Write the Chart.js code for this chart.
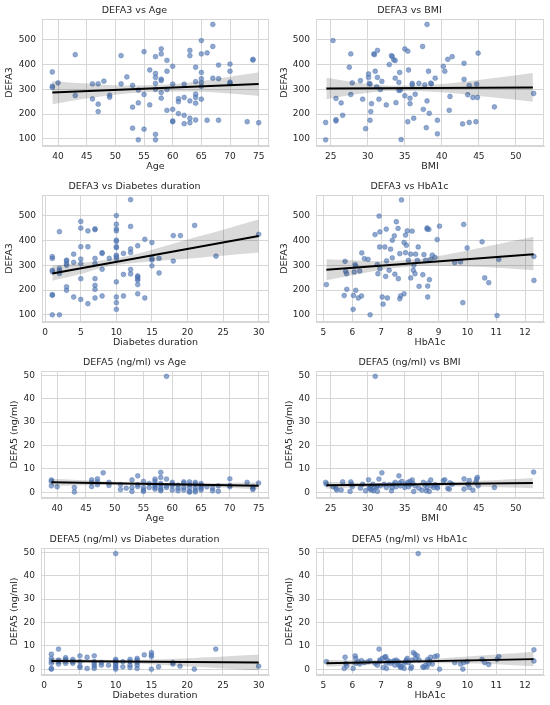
<!DOCTYPE html>
<html>
<head>
<meta charset="utf-8">
<script src="https://cdn.jsdelivr.net/npm/chart.js@4.4.1/dist/chart.umd.min.js"></script>
<style>
  html, body { margin: 0; padding: 0; background: #fff; }
  #wrap { position: relative; width: 550px; height: 705px; overflow: hidden; }
  .panel { position: absolute; width: 275px; height: 176px; }
</style>
</head>
<body>
<div id="wrap">
  <div class="panel" style="left:0;top:0"><canvas id="c1" width="275" height="176"></canvas></div>
  <div class="panel" style="left:275px;top:0"><canvas id="c2" width="275" height="176"></canvas></div>
  <div class="panel" style="left:0;top:176px"><canvas id="c3" width="275" height="176"></canvas></div>
  <div class="panel" style="left:275px;top:176px"><canvas id="c4" width="275" height="176"></canvas></div>
  <div class="panel" style="left:0;top:352px"><canvas id="c5" width="275" height="176"></canvas></div>
  <div class="panel" style="left:275px;top:352px"><canvas id="c6" width="275" height="176"></canvas></div>
  <div class="panel" style="left:0;top:529px"><canvas id="c7" width="275" height="176"></canvas></div>
  <div class="panel" style="left:275px;top:529px"><canvas id="c8" width="275" height="176"></canvas></div>
</div>
<script>
// tick labels
var AGE_TICKS = [40, 45, 50, 55, 60, 65, 70, 75];
var BMI_TICKS = [25, 30, 35, 40, 45, 50];
var DUR_TICKS = [0, 5, 10, 15, 20, 25, 30];
var HBA_TICKS = [5, 6, 7, 8, 9, 10, 11, 12];
var DEFA3_TICKS = [100, 200, 300, 400, 500];
var DEFA5_TICKS = [0, 10, 20, 30, 40, 50];

// points [x, y], fit line ends [x, y], confidence band [x, lo, hi]
var age_defa3 = [[39,370],[39,313],[39,307],[40,326],[43,440],[43,275],[46,322],[46,261],[47,322],[47,240],[47,210],[48,333],[49,276],[49,268],[51,436],[51,322],[52,350],[53,316],[53,228],[53,143],[54,297],[54,245],[54,96],[55,452],[55,279],[55,139],[56,378],[56,237],[57,432],[57,364],[57,348],[57,324],[57,300],[57,118],[57,96],[58,463],[58,443],[58,341],[58,335],[58,287],[58,264],[59,417],[59,373],[59,299],[59,215],[60,393],[60,321],[60,219],[60,172],[60,169],[61,262],[61,250],[61,202],[62,321],[62,267],[62,195],[62,161],[63,457],[63,436],[63,253],[63,183],[63,165],[64,389],[64,331],[64,280],[64,267],[64,244],[64,176],[65,497],[65,443],[65,368],[65,343],[65,328],[65,312],[65,260],[66,447],[66,175],[67,562],[67,473],[67,345],[68,398],[68,343],[68,175],[70,402],[70,373],[70,329],[70,324],[73,169],[74,421],[74,418],[75,165]];
var age_defa3_line = [[39,287],[75,321]];
var age_defa3_band = [[39,240,334],[45,263,323],[50,278,316],[55,288,316],[60,291,321],[65,290,334],[70,283,351],[75,273,369]];

var bmi_defa3 = [[24.3,166],[24.3,96],[25.3,497],[25.7,263],[25.7,177],[25.7,172],[26.4,245],[26.6,195],[27.7,443],[27.5,389],[27.7,279],[27.9,326],[29.0,335],[29.3,260],[29.7,141],[30.1,362],[30.1,348],[30.2,324],[30.3,321],[30.3,175],[30.4,210],[30.5,242],[30.8,443],[30.9,440],[31.0,373],[31.2,310],[31.3,457],[31.3,348],[31.5,260],[31.7,299],[31.9,332],[32.5,237],[32.9,400],[33.2,436],[33.3,432],[33.5,419],[33.7,416],[33.7,345],[33.8,246],[34.2,328],[34.3,368],[34.2,295],[34.4,297],[34.5,97],[35.0,463],[35.0,274],[35.4,454],[35.5,378],[35.4,169],[35.7,264],[35.7,242],[36.0,324],[36.0,318],[36.2,183],[36.4,280],[36.9,324],[37.4,473],[37.5,219],[37.7,318],[37.9,145],[38.0,562],[38.0,253],[38.2,373],[38.3,203],[38.5,325],[38.6,322],[39.1,345],[39.4,175],[39.4,120],[40.2,393],[40.4,373],[40.8,421],[41.0,215],[41.1,271],[41.4,432],[42.8,160],[43.0,405],[43.0,340],[43.5,278],[43.7,316],[43.7,166],[44.2,267],[44.6,169],[44.7,321],[44.8,267],[44.9,446],[47.1,229],[52.4,283]];
var bmi_defa3_line = [[24.4,303],[52.3,307]];
var bmi_defa3_band = [[24.4,260,347],[28,278,330],[32,292,316],[35,293,315],[38,291,318],[42,283,328],[46,270,342],[50,258,357],[52.3,250,366]];

var dur_defa3 = [[1,335],[1,328],[1,280],[1,274],[1,181],[1,179],[1,100],[2,436],[2,287],[2,278],[2,267],[2,100],[3,321],[3,317],[3,307],[3,300],[3,213],[3,199],[4,345],[4,312],[4,172],[5,477],[5,450],[5,375],[5,325],[5,307],[5,246],[5,162],[6,439],[6,375],[6,145],[7,447],[7,444],[7,328],[7,307],[7,246],[7,219],[7,203],[7,168],[8,351],[8,348],[8,284],[8,176],[9,328],[10,501],[10,466],[10,447],[10,439],[10,402],[10,396],[10,375],[10,371],[10,341],[10,335],[10,328],[10,233],[10,172],[10,149],[10,122],[11,348],[11,263],[11,176],[12,565],[12,457],[12,366],[12,352],[12,283],[12,265],[13,379],[13,257],[13,253],[13,246],[13,240],[13,222],[13,185],[14,405],[14,168],[15,392],[15,328],[15,321],[15,298],[16,328],[16,269],[18,420],[18,317],[19,420],[21,461],[24,337],[30,425]];
var dur_defa3_line = [[1,267],[30,418]];
var dur_defa3_band = [[1,238,298],[5,265,309],[8,290,320],[11,304,334],[14,313,355],[18,322,387],[22,332,420],[26,342,452],[30,352,485]];

var hba_defa3 = [[5.1,222],[5.72,178],[5.75,316],[5.77,276],[5.8,266],[5.81,203],[6.03,122],[6.04,178],[6.1,303],[6.12,297],[6.07,273],[6.12,199],[6.21,168],[6.26,277],[6.32,176],[6.33,350],[6.42,327],[6.55,324],[6.62,100],[6.79,424],[6.87,303],[6.89,266],[6.93,499],[6.95,374],[6.96,435],[6.96,286],[7.04,172],[7.07,143],[7.13,374],[7.16,255],[7.18,446],[7.19,318],[7.22,168],[7.28,280],[7.33,365],[7.39,330],[7.39,401],[7.46,419],[7.48,264],[7.53,476],[7.59,449],[7.6,246],[7.65,347],[7.65,165],[7.68,176],[7.71,564],[7.8,185],[7.8,392],[7.85,422],[7.85,351],[7.88,381],[7.91,439],[7.95,320],[8.03,249],[8.03,345],[8.08,438],[8.12,280],[8.14,300],[8.18,266],[8.2,345],[8.26,320],[8.29,374],[8.32,215],[8.45,262],[8.49,343],[8.55,320],[8.6,451],[8.6,446],[8.66,445],[8.62,216],[8.62,172],[8.68,242],[8.72,324],[8.78,341],[8.87,332],[8.95,404],[9.03,458],[9.56,311],[9.76,314],[9.84,149],[9.87,465],[9.99,370],[10.51,395],[10.6,249],[10.74,230],[11.03,97],[11.09,324],[12.31,336],[12.31,239]];
var hba_defa3_line = [[5.1,282],[12.3,345]];
var hba_defa3_band = [[5.1,240,324],[6,260,320],[7,281,317],[8,295,322],[9,298,338],[10,295,360],[11,290,384],[12.3,280,415]];

var age_defa5 = [[39,5.2],[39,4.6],[39,2.7],[40,2.3],[43,2.0],[43,0.1],[46,5.3],[46,4.2],[46,2.4],[47,5.7],[47,4.4],[47,3.2],[48,8.3],[49,4.2],[49,2.9],[51,3.2],[51,1.1],[52,1.7],[53,5.2],[53,2.0],[53,0.3],[54,7.0],[54,3.2],[54,2.4],[55,4.6],[55,2.0],[55,0.9],[55,0.3],[56,3.7],[56,2.0],[57,5.6],[57,4.6],[57,3.4],[57,2.7],[57,2.0],[57,1.3],[58,8.5],[58,6.3],[58,3.7],[58,3.2],[58,2.0],[58,1.1],[58,0.6],[59,49.6],[59,5.6],[59,2.7],[59,2.0],[60,4.2],[60,3.4],[60,2.7],[60,0.9],[61,3.0],[61,1.7],[61,0.6],[62,4.4],[62,3.9],[62,2.0],[62,0.9],[63,4.4],[63,3.2],[63,2.0],[63,0.4],[63,0],[64,4.2],[64,3.4],[64,2.0],[64,0.9],[64,0.1],[65,3.7],[65,3.0],[65,2.3],[65,1.6],[65,0.9],[66,2.3],[67,1.7],[67,0.6],[68,2.7],[68,0.4],[70,5.7],[70,2.9],[70,2.3],[73,4.2],[74,2.3],[74,1.6],[74,1.1],[75,3.9]];
var age_defa5_line = [[39,4.2],[75,2.7]];
var age_defa5_band = [[39,2.7,5.7],[48,3.1,4.7],[57,2.9,4.0],[66,2.2,3.8],[75,1.2,4.2]];

var bmi_defa5 = [[24.3,4.2],[24.4,3.4],[25.3,2.3],[25.7,1.6],[25.8,0.9],[26.4,0.9],[26.6,4.4],[27.6,0.3],[27.7,4.4],[27.8,3.4],[27.9,2.3],[29.0,1.7],[29.3,3.4],[29.7,0.6],[30.1,5.3],[30.2,2.0],[30.3,1.3],[30.4,2.7],[30.5,0.9],[30.7,3.4],[30.8,0.6],[30.9,2.0],[31.0,49.6],[31.2,2.3],[31.3,0.3],[31.3,2.7],[31.5,5.6],[31.7,2.7],[31.9,8.3],[32.2,3.4],[32.5,2.0],[32.9,3.2],[33.2,0.6],[33.3,2.0],[33.5,3.4],[33.7,4.2],[33.8,2.3],[34.2,7.0],[34.3,3.9],[34.4,2.7],[34.6,4.6],[35.0,2.0],[35.1,3.4],[35.4,4.2],[35.5,2.3],[35.7,4.6],[35.7,3.2],[36.0,5.2],[36.1,3.7],[36.2,0.3],[36.4,2.7],[36.9,1.7],[37.3,0.9],[37.5,4.2],[37.7,3.0],[37.9,0.6],[38.0,2.0],[38.2,3.9],[38.3,0.3],[38.5,5.2],[38.6,2.7],[38.9,2.0],[39.1,3.2],[39.4,2.3],[39.4,1.7],[40.2,4.9],[40.4,5.3],[40.8,1.6],[41.0,1.3],[41.1,4.0],[41.4,3.4],[43.0,5.7],[43.0,1.3],[43.5,3.4],[43.7,5.0],[43.7,2.0],[44.2,0.9],[44.6,4.4],[44.7,5.6],[44.8,6.3],[44.9,2.7],[47.1,2.0],[52.4,8.6]];
var bmi_defa5_line = [[24.4,3.0],[52.3,3.9]];
var bmi_defa5_band = [[24.4,1.5,4.6],[30,2.2,3.9],[35,2.6,3.8],[40,2.6,4.2],[46,2.2,5.0],[52.3,1.7,6.1]];

var dur_defa5 = [[1,6.4],[1,4.6],[1,3.5],[1,2.5],[1,0.3],[1,0],[2,8.6],[2,3.9],[2,3.2],[2,2.2],[3,4.9],[3,4.2],[3,3.5],[3,2.5],[4,4.2],[4,3.2],[4,2.5],[5,5.7],[5,3.2],[5,1.3],[5,0.7],[6,5.1],[6,0.3],[7,5.7],[7,3.2],[7,2.2],[7,1.3],[7,0.3],[8,2.8],[8,1.7],[9,1.7],[10,49.5],[10,4.2],[10,3.6],[10,2.8],[10,2.2],[10,1.3],[10,0.7],[10,0],[11,3.2],[11,1.0],[12,4.2],[12,3.2],[12,1.7],[12,0.7],[13,4.6],[13,3.9],[13,2.8],[13,1.7],[13,0.3],[14,6.1],[15,7.1],[15,6.1],[15,5.4],[15,0],[16,1.0],[18,2.8],[18,2.2],[19,1.3],[21,0],[24,8.6],[30,1.3]];
var dur_defa5_line = [[1,3.5],[30,2.9]];
var dur_defa5_band = [[1,2.2,4.8],[6,2.6,4.2],[11,2.5,3.9],[16,1.9,4.2],[21,1.0,4.8],[25,0.3,5.4],[30,-0.5,6.3]];

var hba_defa5 = [[5.1,3.2],[5.72,0.3],[5.75,5.1],[5.77,2.5],[5.81,1.3],[6.03,0.3],[6.1,5.7],[6.12,4.6],[6.12,2.5],[6.21,3.2],[6.26,2.2],[6.32,3.6],[6.42,2.8],[6.55,3.2],[6.62,3.6],[6.79,2.5],[6.87,1.7],[6.93,8.6],[6.95,3.9],[6.96,3.2],[7.04,4.6],[7.07,0.7],[7.13,5.1],[7.16,5.4],[7.18,2.5],[7.19,0.3],[7.22,3.9],[7.28,3.2],[7.33,2.5],[7.39,3.2],[7.46,3.6],[7.48,1.7],[7.53,3.9],[7.59,2.2],[7.6,3.2],[7.65,1.3],[7.68,0.7],[7.71,1.0],[7.8,0.3],[7.8,2.5],[7.85,3.2],[7.88,3.9],[7.91,4.6],[7.95,2.8],[8.03,0.3],[8.06,1.0],[8.08,3.9],[8.12,7.1],[8.18,6.4],[8.2,4.6],[8.26,5.7],[8.29,49.5],[8.32,3.9],[8.45,1.0],[8.49,0.7],[8.55,1.7],[8.6,1.0],[8.62,4.2],[8.66,2.5],[8.68,3.6],[8.72,5.1],[8.78,2.2],[8.87,5.4],[8.95,5.7],[9.03,0],[9.56,2.8],[9.76,2.2],[9.84,0],[9.87,2.8],[9.99,3.2],[10.51,4.2],[10.6,2.8],[10.74,2.0],[11.03,4.2],[11.09,5.4],[12.31,8.3],[12.31,3.5]];
var hba_defa5_line = [[5.1,2.5],[12.3,4.3]];
var hba_defa5_band = [[5.1,1.0,4.0],[6.5,1.9,3.7],[8,2.5,4.0],[9.5,2.5,5.0],[11,2.1,6.3],[12.3,1.2,7.5]];

var TEXT = '#262626';
var GRID = '#d6d6d6';
var FONT = "'DejaVu Sans', sans-serif";

var framePlugin = {
  id: 'frame',
  beforeDatasetsDraw: function (chart) {
    var a = chart.chartArea, c = chart.ctx;
    c.save();
    c.strokeStyle = GRID;
    c.lineWidth = 1;
    c.strokeRect(a.left + 0.5, a.top + 0.5, a.width - 1, a.height - 1);
    c.restore();
  }
};

function xy(list) { return list.map(function (p) { return { x: p[0], y: p[1] }; }); }

function panel(id, cfg) {
  var ticksX = cfg.xTicks, ticksY = cfg.yTicks;
  new Chart(document.getElementById(id), {
    type: 'scatter',
    data: {
      datasets: [{
        data: xy(cfg.points),
        backgroundColor: 'rgba(76, 114, 176, 0.62)',
        borderColor: 'rgba(76, 114, 176, 0.75)',
        borderWidth: 0.6,
        pointRadius: 2.4,
        order: 3
      }, {
        type: 'line',
        data: cfg.band.map(function (b) { return { x: b[0], y: b[1] }; }),
        borderWidth: 0,
        pointRadius: 0,
        tension: 0.35,
        fill: false,
        order: 2
      }, {
        type: 'line',
        data: cfg.band.map(function (b) { return { x: b[0], y: b[2] }; }),
        borderWidth: 0,
        pointRadius: 0,
        tension: 0.35,
        fill: '-1',
        backgroundColor: 'rgba(0, 0, 0, 0.15)',
        order: 2
      }, {
        type: 'line',
        data: xy(cfg.line),
        borderColor: '#000',
        borderWidth: 2,
        pointRadius: 0,
        fill: false,
        order: 0
      }]
    },
    options: {
      responsive: false,
      animation: false,
      layout: { padding: { left: 0, right: 6, top: 0, bottom: 0 } },
      plugins: {
        legend: { display: false },
        tooltip: { enabled: false },
        title: {
          display: true,
          text: cfg.title,
          color: TEXT,
          font: { family: FONT, size: 9.5, weight: 'normal' },
          padding: { top: 5, bottom: 2.6 }
        }
      },
      scales: {
        x: {
          type: 'linear',
          min: cfg.xMin,
          max: cfg.xMax,
          afterBuildTicks: function (s) { s.ticks = ticksX.map(function (v) { return { value: v }; }); },
          afterFit: function (s) { s.height = 30; },
          grid: { color: GRID, drawTicks: false },
          border: { color: GRID },
          ticks: { color: TEXT, font: { family: FONT, size: 9 }, padding: 5, maxRotation: 0 },
          title: { display: true, text: cfg.xTitle, color: TEXT, font: { family: FONT, size: 9.5 }, padding: { top: 0, bottom: 3.5 } }
        },
        y: {
          type: 'linear',
          min: cfg.yMin,
          max: cfg.yMax,
          afterBuildTicks: function (s) { s.ticks = ticksY.map(function (v) { return { value: v }; }); },
          afterFit: function (s) { s.width = cfg.left; },
          grid: { color: GRID, drawTicks: false },
          border: { color: GRID },
          ticks: { color: TEXT, font: { family: FONT, size: 9 }, padding: 6 },
          title: { display: true, text: cfg.yTitle, color: TEXT, font: { family: FONT, size: 9.5 }, padding: { top: cfg.yTitlePad, bottom: 0 } }
        }
      }
    },
    plugins: [framePlugin]
  });
}

var D3 = { yTicks: DEFA3_TICKS, yMin: 71, yMax: 584, yTitle: 'DEFA3', yTitlePad: 4.3 };
var D5 = { yTicks: DEFA5_TICKS, yMin: -2.5, yMax: 51.9, yTitle: 'DEFA5 (ng/ml)', yTitlePad: 9 };
var AGE = { xTicks: AGE_TICKS, xMin: 37.2, xMax: 76.8, xTitle: 'Age' };
var BMI = { xTicks: BMI_TICKS, xMin: 23.0, xMax: 53.8, xTitle: 'BMI' };
var DUR = { xTicks: DUR_TICKS, xMin: -0.45, xMax: 31.45, xTitle: 'Diabetes duration' };
var HBA = { xTicks: HBA_TICKS, xMin: 4.74, xMax: 12.66, xTitle: 'HbA1c' };

function merge() {
  var o = {};
  for (var i = 0; i < arguments.length; i++) {
    for (var k in arguments[i]) o[k] = arguments[i][k];
  }
  return o;
}

panel('c1', merge(AGE, D3, { title: 'DEFA3 vs Age', points: age_defa3, line: age_defa3_line, band: age_defa3_band, left: 42 }));
panel('c2', merge(BMI, D3, { title: 'DEFA3 vs BMI', points: bmi_defa3, line: bmi_defa3_line, band: bmi_defa3_band, left: 41 }));
panel('c3', merge(DUR, D3, { title: 'DEFA3 vs Diabetes duration', points: dur_defa3, line: dur_defa3_line, band: dur_defa3_band, left: 42 }));
panel('c4', merge(HBA, D3, { title: 'DEFA3 vs HbA1c', points: hba_defa3, line: hba_defa3_line, band: hba_defa3_band, left: 41 }));
panel('c5', merge(AGE, D5, { title: 'DEFA5 (ng/ml) vs Age', points: age_defa5, line: age_defa5_line, band: age_defa5_band, left: 41 }));
panel('c6', merge(BMI, D5, { title: 'DEFA5 (ng/ml) vs BMI', points: bmi_defa5, line: bmi_defa5_line, band: bmi_defa5_band, left: 41 }));
panel('c7', merge(DUR, D5, { title: 'DEFA5 (ng/ml) vs Diabetes duration', points: dur_defa5, line: dur_defa5_line, band: dur_defa5_band, left: 41 }));
panel('c8', merge(HBA, D5, { title: 'DEFA5 (ng/ml) vs HbA1c', points: hba_defa5, line: hba_defa5_line, band: hba_defa5_band, left: 41 }));
</script>
</body>
</html>
